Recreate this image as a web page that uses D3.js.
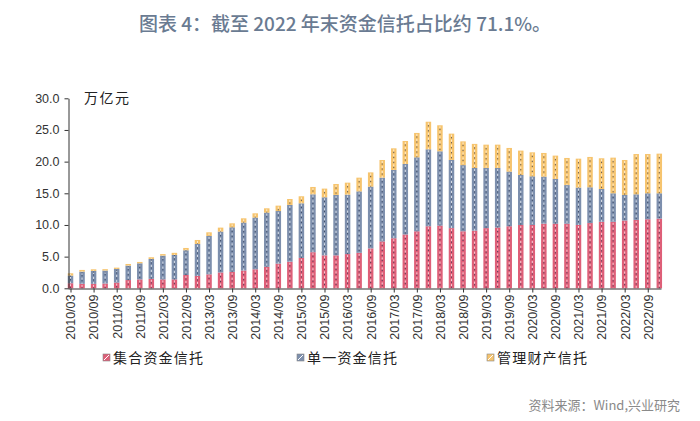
<!DOCTYPE html>
<html><head><meta charset="utf-8">
<script src="https://cdn.jsdelivr.net/npm/d3@7"></script>
<style>
html,body{margin:0;padding:0;background:#fff;}
svg{display:block;}
</style></head>
<body><svg id="c" width="700" height="421"></svg>
<script>
const quarters = ["2010/03","2010/06","2010/09","2010/12","2011/03","2011/06","2011/09","2011/12",
"2012/03","2012/06","2012/09","2012/12","2013/03","2013/06","2013/09","2013/12",
"2014/03","2014/06","2014/09","2014/12","2015/03","2015/06","2015/09","2015/12",
"2016/03","2016/06","2016/09","2016/12","2017/03","2017/06","2017/09","2017/12",
"2018/03","2018/06","2018/09","2018/12","2019/03","2019/06","2019/09","2019/12",
"2020/03","2020/06","2020/09","2020/12","2021/03","2021/06","2021/09","2021/12",
"2022/03","2022/06","2022/09","2022/12"];
const collective = [0.8,0.7,0.7,0.75,0.9,1.3,1.4,1.5,1.4,1.4,2.1,1.95,2.2,2.5,2.6,2.8,3.0,3.4,3.9,4.2,4.8,5.7,5.2,5.2,5.4,5.6,6.3,7.4,7.9,8.5,9.0,9.8,9.9,9.5,9.0,9.1,9.5,9.6,9.8,10.0,10.0,10.2,10.2,10.2,10.0,10.3,10.5,10.5,10.7,10.8,10.9,11.0];
const single = [1.2,1.93,2.04,2.05,2.15,2.28,2.55,3.13,3.76,3.86,3.9,5.05,6.06,6.45,7.03,7.57,8.16,8.55,8.3,8.96,8.62,9.14,9.17,9.54,9.39,9.7,9.75,10.07,10.78,11.13,11.68,12.15,11.73,10.76,10.45,9.9,9.5,9.4,8.62,7.9,7.68,7.43,7.06,6.1,5.9,5.65,5.18,4.5,4.04,4.04,4.1,4.0];
const managed = [0.37,0.27,0.26,0.22,0.21,0.26,0.21,0.27,0.24,0.34,0.37,0.63,0.58,0.63,0.63,0.68,0.68,0.68,0.85,0.94,1.11,1.16,1.37,1.73,1.89,2.17,2.25,2.79,3.42,3.63,3.85,4.35,4.11,4.16,3.75,3.8,3.68,3.68,3.74,3.84,3.79,3.74,3.69,4.28,4.57,4.79,4.85,5.63,5.52,6.36,6.2,6.26];
const seriesNames = ["集合资金信托","单一资金信托","管理财产信托"];
const yTicks = [0,5,10,15,20,25,30];
const title = "图表 4：截至 2022 年末资金信托占比约 71.1%。";
const unit = "万亿元";
const source = "资料来源：Wind,兴业研究";

const colors = ["#de5f78","#7d8fad","#f6c46e"];
const svg = d3.select("#c");

const x = d3.scalePoint().domain(quarters).range([70.5, 659.3]);
const y = d3.scaleLinear().domain([0,30]).range([288.3, 98.3]);

const rows = quarters.map((q,i)=>({q, c:collective[i], s:single[i], m:managed[i]}));
const stack = d3.stack().keys(["c","s","m"])(rows);

// title
svg.append("text").attr("x",345).attr("y",31).attr("text-anchor","middle")
  .attr("font-family","'Noto Sans CJK SC','Noto Sans',sans-serif").attr("font-size",19).attr("font-weight",500)
  .attr("fill","#6a7b92").text(title);

// bars
const bw = 5.5;
stack.forEach((layer,k)=>{
  const g = svg.append("g");
  g.selectAll("rect").data(layer).join("rect")
    .attr("x",d=>x(d.data.q)-bw/2).attr("width",bw)
    .attr("y",d=>y(d[1])).attr("height",d=>Math.max(0,y(d[0])-y(d[1])))
    .attr("fill",colors[k]);
  g.selectAll("line.w").data(layer).join("line").attr("class","w")
    .attr("x1",d=>x(d.data.q)).attr("x2",d=>x(d.data.q))
    .attr("y1",d=>y(d[1])+1).attr("y2",d=>y(d[0]))
    .attr("stroke","#ffffff").attr("stroke-opacity",0.7).attr("stroke-width",1).attr("stroke-dasharray","2,3");
  g.selectAll("line.d").data(layer).join("line").attr("class","d")
    .attr("x1",d=>x(d.data.q)).attr("x2",d=>x(d.data.q))
    .attr("y1",d=>y(d[1])+3.5).attr("y2",d=>y(d[0]))
    .attr("stroke","#2b3550").attr("stroke-opacity",0.75).attr("stroke-width",1).attr("stroke-dasharray","1.2,3.8");
});

// y axis
const yAxis = d3.axisLeft(y).tickValues(yTicks).tickFormat(d3.format(".1f")).tickSize(4).tickSizeOuter(0);
const gy = svg.append("g").attr("transform","translate(68.5,0)").call(yAxis);
gy.select(".domain").attr("stroke","#333");
gy.selectAll(".tick line").attr("stroke","#333");
gy.selectAll("text").attr("font-family","'Liberation Sans',Arial,sans-serif").attr("font-size",12.5).attr("fill","#333").attr("x",-9);

// x axis
const xAxis = d3.axisBottom(x).tickValues(quarters.filter((q,i)=>i%2===0)).tickSize(4).tickSizeOuter(0);
const gx = svg.append("g").attr("transform","translate(0,288.5)").call(xAxis);
gx.select(".domain").attr("stroke","#333").attr("d","M68.5,0.5H661.5");
gx.selectAll(".tick line").attr("stroke","#333");
gx.selectAll("text").attr("font-family","'Liberation Sans',Arial,sans-serif").attr("font-size",12.5).attr("fill","#333")
  .attr("transform","rotate(-90)").attr("text-anchor","end").attr("x",-6).attr("y",0).attr("dy","0.35em");

// unit label
svg.append("text").attr("x",84).attr("y",103).attr("font-family","'Noto Sans CJK SC',sans-serif")
  .attr("font-size",14).attr("letter-spacing",1.5).attr("fill","#222").text(unit);

// legend
const legX = [103, 297, 487];
seriesNames.forEach((n,k)=>{
  const g = svg.append("g").attr("transform",`translate(${legX[k]},358)`);
  g.append("rect").attr("x",0).attr("y",-4).attr("width",7).attr("height",7)
    .attr("fill",colors[k]).attr("stroke","#888").attr("stroke-width",0.6);
  g.append("line").attr("x1",1).attr("y1",2).attr("x2",6).attr("y2",-3).attr("stroke","#fff").attr("stroke-width",1);
  g.append("text").attr("x",10).attr("y",0).attr("dy","0.35em")
    .attr("font-family","'Noto Sans CJK SC',sans-serif").attr("font-size",14).attr("letter-spacing",1.2)
    .attr("fill","#222").text(n);
});

// source
svg.append("text").attr("x",680).attr("y",410).attr("text-anchor","end")
  .attr("font-family","'Noto Sans CJK SC',sans-serif").attr("font-size",13).attr("fill","#8a8a8a").text(source);
</script></body></html>
